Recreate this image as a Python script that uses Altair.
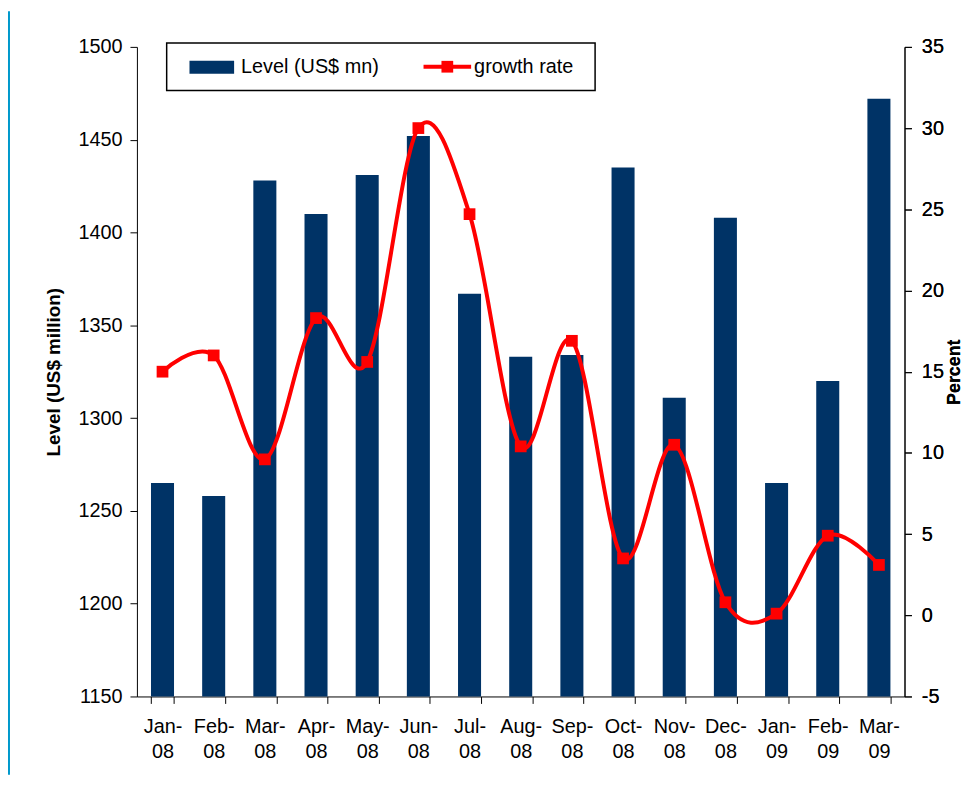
import altair as alt
import pandas as pd

months = ["Jan-08", "Feb-08", "Mar-08", "Apr-08", "May-08", "Jun-08", "Jul-08",
          "Aug-08", "Sep-08", "Oct-08", "Nov-08", "Dec-08", "Jan-09", "Feb-09", "Mar-09"]
level = [1265, 1258, 1428, 1410, 1431, 1452, 1367, 1333, 1334, 1435, 1311, 1408, 1265, 1320, 1472]
growth = [15.0, 16.0, 9.6, 18.3, 15.6, 30.0, 24.7, 10.4, 16.9, 3.5, 10.5, 0.8, 0.1, 4.9, 3.1]

df = pd.DataFrame({"month": months, "level": level, "growth": growth})

FONT = "Liberation Sans"
NAVY = "#003366"
RED = "#FF0000"
FRAME = "#0099CC"
W, H = 774, 655

xenc = alt.X("month:N", sort=months, title=None,
             scale=alt.Scale(paddingInner=0.55, paddingOuter=0.275),
             axis=alt.Axis(labelAngle=0, tickBand="extent", labelFontSize=20,
                           labelExpr="[slice(datum.label,0,4), slice(datum.label,4)]",
                           labelLineHeight=26, labelPadding=13, tickSize=7,
                           domainColor="black", tickColor="black", labelColor="black",
                           labelFont=FONT))

bars = alt.Chart(df).mark_bar(color=NAVY).encode(
    x=xenc,
    y=alt.Y("level:Q", scale=alt.Scale(domain=[1150, 1500], zero=False, nice=False),
            axis=alt.Axis(title="Level (US$ million)", values=list(range(1150, 1501, 50)),
                          labelExpr="'' + datum.value",
                          titleFontSize=19, titleFontWeight="bold", titleFont=FONT,
                          titlePadding=15, labelFontSize=20, labelFont=FONT, labelPadding=8,
                          tickSize=7, grid=False, domainColor="black", tickColor="black",
                          labelColor="black", titleColor="black")),
    y2=alt.datum(1150),
)

yright = alt.Y("growth:Q", scale=alt.Scale(domain=[-5, 35], nice=False, zero=False),
               axis=alt.Axis(orient="right", title="Percent", values=list(range(-5, 36, 5)),
                             labelExpr="'' + datum.value",
                             titleFontSize=18, titleFontWeight="bold", titleFont=FONT,
                             titleAngle=270, titlePadding=20,
                             labelFontSize=20, labelFont=FONT, labelPadding=10,
                             tickSize=7, grid=False, domainColor="black", tickColor="black",
                             labelColor="black", titleColor="black"))

line = alt.Chart(df).mark_line(color=RED, strokeWidth=4, interpolate="cardinal").encode(
    x=alt.X("month:N", sort=months), y=yright)
pts = alt.Chart(df).mark_point(shape="square", filled=True, color=RED, size=140, opacity=1).encode(
    x=alt.X("month:N", sort=months), y=yright)

one = alt.Data(values=[{"a": 1}])
frame = alt.Chart(one).mark_rect(fill=FRAME).encode(
    x=alt.value(-130), x2=alt.value(-128), y=alt.value(-36), y2=alt.value(H + 79))
leg_box = alt.Chart(one).mark_rect(fill="white", stroke="black", strokeWidth=1.5).encode(
    x=alt.value(30), x2=alt.value(462), y=alt.value(-4), y2=alt.value(44))
leg_bar = alt.Chart(one).mark_rect(fill=NAVY).encode(
    x=alt.value(53), x2=alt.value(98), y=alt.value(14), y2=alt.value(27))
leg_t1 = alt.Chart(one).mark_text(align="left", baseline="middle", fontSize=20, font=FONT,
                                  color="black").encode(
    x=alt.value(105), y=alt.value(20), text=alt.value("Level (US$ mn)"))
leg_line = alt.Chart(one).mark_rule(color=RED, strokeWidth=4).encode(
    x=alt.value(289), x2=alt.value(337), y=alt.value(20))
leg_pt = alt.Chart(one).mark_point(shape="square", filled=True, color=RED, size=140, opacity=1).encode(
    x=alt.value(313), y=alt.value(20))
leg_t2 = alt.Chart(one).mark_text(align="left", baseline="middle", fontSize=20, font=FONT,
                                  color="black").encode(
    x=alt.value(340), y=alt.value(20), text=alt.value("growth rate"))

chart = alt.layer(bars, line, pts, frame, leg_box, leg_bar, leg_t1, leg_line, leg_pt, leg_t2).resolve_scale(
    y="independent"
).properties(
    width=W, height=H,
    autosize=alt.AutoSizeParams(type="none"),
    padding={"left": 130, "top": 36, "right": 61, "bottom": 79},
    background="white",
).configure_view(stroke=None)

chart.save("out.html", embed_options={"renderer": "svg", "actions": False})
